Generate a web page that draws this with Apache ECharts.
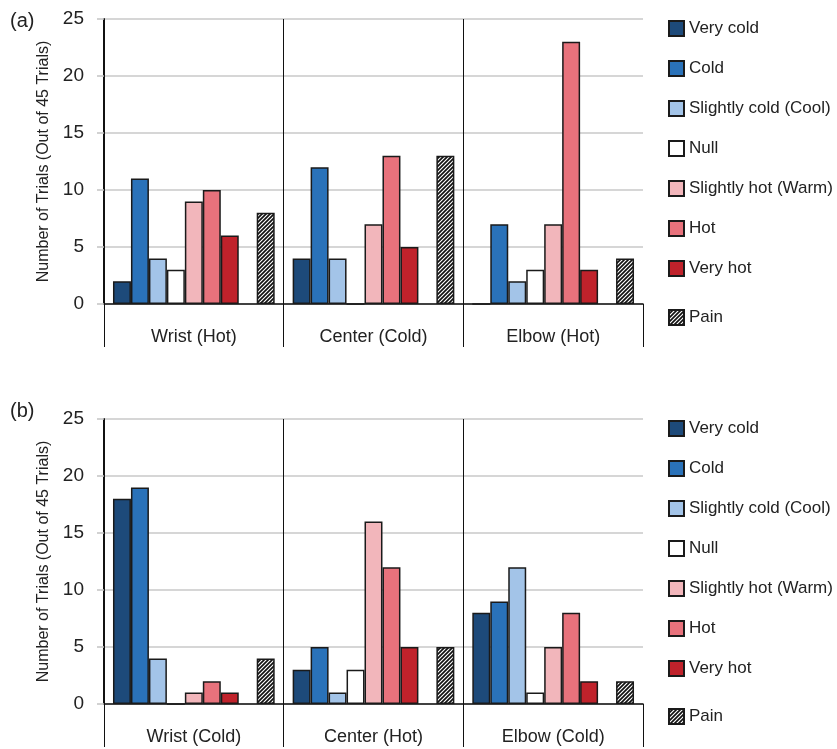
<!DOCTYPE html>
<html>
<head>
<meta charset="utf-8">
<script src="https://cdn.jsdelivr.net/npm/echarts@6/dist/echarts.min.js"></script>
<style>
  html, body { margin: 0; padding: 0; background: #fff; }
  #main { width: 837px; height: 749px; }
</style>
</head>
<body>
<div id="main"></div>
<script>
// sensation categories (legend order)
var sensations = ['Very cold', 'Cold', 'Slightly cold (Cool)', 'Null', 'Slightly hot (Warm)', 'Hot', 'Very hot'];
var colors = ['#1d4a7a', '#2a72b9', '#a3c4e8', '#ffffff', '#f2b6bb', '#e8727c', '#c0222b'];

// panel (a)
var groupsA = ['Wrist (Hot)', 'Center (Cold)', 'Elbow (Hot)'];
var valuesA = [
  [2, 4, 0],    // Very cold
  [11, 12, 7],  // Cold
  [4, 4, 2],    // Slightly cold
  [3, 0, 3],    // Null
  [9, 7, 7],    // Slightly hot
  [10, 13, 23], // Hot
  [6, 5, 3]     // Very hot
];
var painA = [8, 13, 4];

// panel (b)
var groupsB = ['Wrist (Cold)', 'Center (Hot)', 'Elbow (Cold)'];
var valuesB = [
  [18, 3, 8],
  [19, 5, 9],
  [4, 1, 12],
  [0, 3, 1],
  [1, 16, 5],
  [2, 12, 8],
  [1, 5, 2]
];
var painB = [4, 5, 2];

var yTicks = [0, 5, 10, 15, 20, 25];

// hatch tile for the pain bars
function hatch() {
  var c = document.createElement('canvas');
  c.width = 4; c.height = 4;
  var g = c.getContext('2d');
  g.fillStyle = '#ffffff';
  g.fillRect(0, 0, 4, 4);
  g.strokeStyle = '#111';
  g.lineWidth = 1.7;
  g.beginPath();
  g.moveTo(-1, 5); g.lineTo(5, -1);
  g.moveTo(-1, 1); g.lineTo(1, -1);
  g.moveTo(3, 5); g.lineTo(5, 3);
  g.stroke();
  return c;
}
var hatchPattern = { image: hatch(), repeat: 'repeat' };

var font = 'Liberation Sans, Arial, sans-serif';

function panelSeries(vals, pain, idx) {
  var out = [];
  vals.forEach(function (v, i) {
    out.push({
      name: sensations[i], type: 'bar', xAxisIndex: idx, yAxisIndex: idx,
      barGap: '0%', barCategoryGap: '10%',
      itemStyle: { color: colors[i], borderColor: '#1a1a1a', borderWidth: 1.5 },
      data: v
    });
  });
  // empty slot between "Very hot" and "Pain"
  out.push({ name: 'gap', type: 'bar', xAxisIndex: idx, yAxisIndex: idx,
    barGap: '0%', barCategoryGap: '10%', data: ['-', '-', '-'] });
  out.push({
    name: 'Pain', type: 'bar', xAxisIndex: idx, yAxisIndex: idx,
    barGap: '0%', barCategoryGap: '10%',
    itemStyle: { color: hatchPattern, borderColor: '#1a1a1a', borderWidth: 1.5 },
    data: pain
  });
  return out;
}

function xAxis(data, idx) {
  return {
    type: 'category', gridIndex: idx, data: data,
    axisLine: { lineStyle: { color: '#111', width: 1.6 } },
    axisTick: { show: true, alignWithLabel: false, length: 43, lineStyle: { color: '#111', width: 1 } },
    axisLabel: { color: '#222', fontSize: 18, fontFamily: font, margin: 24 },
    splitLine: { show: true, showMinLine: false, showMaxLine: false, lineStyle: { color: '#111', width: 1 } }
  };
}

function yAxis(idx) {
  return {
    type: 'value', gridIndex: idx, min: yTicks[0], max: yTicks[yTicks.length - 1], interval: 5,
    name: 'Number of Trials (Out of 45 Trials)', nameLocation: 'middle', nameGap: 50,
    nameTextStyle: { fontSize: 16, color: '#222', fontFamily: font },
    axisLine: { show: true, lineStyle: { color: '#111', width: 2 } },
    axisTick: { show: true, length: 7, lineStyle: { color: '#c4c4c4', width: 1.5 } },
    axisLabel: { color: '#222', fontSize: 19, fontFamily: font, margin: 20 },
    splitLine: { lineStyle: { color: '#c8c8c8', width: 1.5 } }
  };
}

function legends(top, painTop) {
  var base = { orient: 'vertical', left: 663, itemWidth: 15, itemHeight: 15, itemGap: 23,
    icon: 'rect', selectedMode: false, textStyle: { fontSize: 17, color: '#222', fontFamily: font } };
  return [
    Object.assign({}, base, { top: top, data: sensations }),
    Object.assign({}, base, { top: painTop, data: ['Pain'] })
  ];
}

var chart = echarts.init(document.getElementById('main'));
chart.setOption({
  backgroundColor: '#fff',
  animation: false,
  title: [
    { text: '(a)', left: 5, top: 6, textStyle: { fontSize: 20, fontWeight: 'normal', color: '#222', fontFamily: font } },
    { text: '(b)', left: 5, top: 396, textStyle: { fontSize: 20, fontWeight: 'normal', color: '#222', fontFamily: font } }
  ],
  grid: [
    { left: 104, top: 19, width: 539, height: 285 },
    { left: 104, top: 419, width: 539, height: 285 }
  ],
  legend: legends(15, 304).concat(legends(415, 703)),
  xAxis: [xAxis(groupsA, 0), xAxis(groupsB, 1)],
  yAxis: [yAxis(0), yAxis(1)],
  series: panelSeries(valuesA, painA, 0).concat(panelSeries(valuesB, painB, 1))
});
</script>
</body>
</html>
